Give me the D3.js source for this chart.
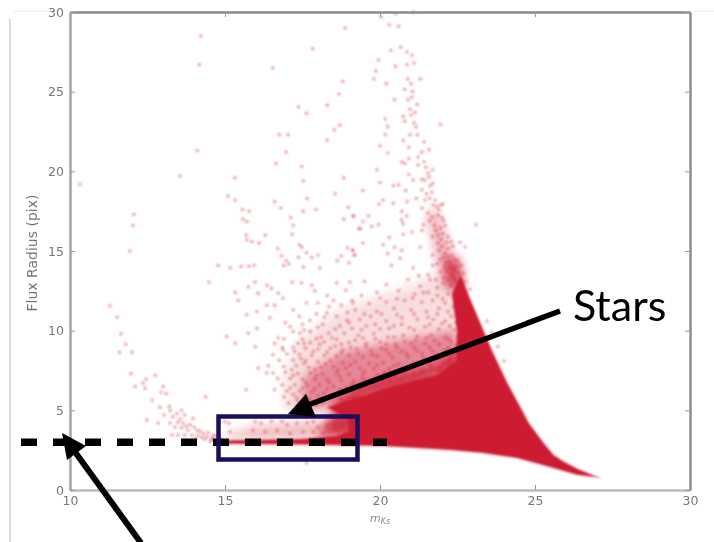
<!DOCTYPE html>
<html>
<head>
<meta charset="utf-8">
<script src="https://cdn.jsdelivr.net/npm/d3@7"></script>
<style>
    html, body { margin: 0; padding: 0; background: #fff; }
    svg { display: block; }
</style>
</head>
<body>
<div id="chart"></div>
<script>
// Axis ticks
const magTicks = [10, 15, 20, 25, 30];
const radiusTicks = [0, 5, 10, 15, 20, 25, 30];

// Outline of the saturated stellar locus, [magnitude, flux radius]
const coreOutline = [
    [14.9, 3.1], [17.42, 3.2], [18.6, 3.4], [19, 3.7], [18.95, 4.5], [18.3, 5.2],
    [19.35, 5.85], [20.23, 6.45], [21.1, 6.9], [21.84, 7.25], [22.45, 8.1], [22.48, 10], [22.32, 12.3],
    [22.6, 13.5], [22.95, 11.8], [23.32, 10.1], [23.6, 8.8], [24.1, 6.75], [24.5, 5.3], [24.8, 4.2], [25.26, 3],
    [25.6, 2.2], [25.95, 1.75], [26.4, 1.3], [26.94, 0.88], [27.15, 0.76], [26.35, 0.96], [25.48, 1.44], [24.42, 2.01],
    [23.32, 2.32], [22.26, 2.51], [20.1, 2.76], [17.42, 2.86], [14.9, 2.9]
];

// Areas where the points overlap too much to read one by one
const cloudOuter = [
    [16.94, 4.9], [16.94, 7.2], [17.42, 9.4], [18.71, 11.3], [20.65, 12.55], [22.26, 13.8],
    [22.58, 11.9], [22.58, 7.85], [18.71, 5.0]
];
const cloudInner = [
    [17.42, 5.0], [17.58, 7.2], [18.71, 8.65], [20.65, 9.4], [22.42, 10.05], [22.58, 7.85],
    [20.65, 6.6], [18.39, 5.15]
];
const locusShoulder = [
    [18.4, 5.3], [19.2, 6.4], [20.2, 7.1], [21.8, 7.9], [22.6, 9], [22.6, 7.5], [21.5, 6.8], [19.3, 5.6]
];
const boxShoulder = [
    [18, 3.4], [18.4, 4.6], [18.6, 5.3], [19.4, 5.8], [19.4, 3.3]
];
const ridgeBand = [
    [21.5, 17.5], [21.7, 15.7], [21.9, 13.8], [22.1, 12.5], [22.7, 13.2], [22.6, 13.8],
    [22.16, 15.7], [21.85, 17.5]
];
const ridgeTip = [
    [22.05, 14.5], [22.25, 12.5], [22.7, 12.5], [22.6, 14.5]
];
const faintStrip = [
    [15, 3.4], [16, 4.0], [18, 4.3], [18.9, 4.9], [18.9, 3.2], [15, 3.2]
];

// Scattered points
const sparsePoints = [
    [14.22,28.5],[14.17,26.7],[10.32,19.2],[14.1,21.3],[13.55,19.7],[15.32,19.6],[12.06,17.3],[12.03,16.6],
    [11.93,15],[16.54,26.5],[17.83,27.7],[18.88,29],[18.8,25.65],[18.68,24.85],[17.37,24.05],[17.63,23.65],
    [18.3,24.15],[18.7,22.9],[18.53,22.6],[16.75,22.3],[17.03,22.3],[18.3,21.95],[16.97,21.2],[16.65,20.5],
    [17.47,20.3],[17.53,19.4],[18.83,19.6],[18.55,18.6],[17.65,18.3],[15.1,18.45],[15.33,18.2],[16.6,18.1],
    [16.8,17.7],[15.56,17.6],[15.78,17.5],[17.52,17.5],[17.94,17.6],[18.98,17.75],[19.15,17.2],[18.83,17],
    [17.12,17.1],[15.58,17],[15.71,16.85],[17.2,16.6],[19.32,16.4],[17.17,16.05],[15.68,16],[16.3,16],
    [15.71,15.7],[15.87,15.6],[16.1,15.5],[17.4,15.4],[17.48,15.25],[16.7,15.15],[18.95,15.2],[19.12,15.05],
    [17.63,14.9],[17.37,14.6],[17.8,14.6],[18,14.75],[18.75,14.7],[19.16,14.75],[16.82,14.7],[16.97,14.4],
    [18.62,14.4],[19,14.25],[14.78,14.1],[15.17,13.95],[15.52,14.05],[15.77,14.05],[15.94,14.1],[16.9,14.1],
    [17.06,14.2],[17.53,14],[18.06,13.95],[14.48,13.05],[15.33,12.4],[15.43,11.9],[15.75,12.75],[15.97,13.05],
    [16.35,12.85],[16.5,12.65],[15.7,11],[15.05,9.65],[15.33,9.2],[16.07,12.35],[16.72,12.35],[17.17,13.05],
    [17.47,13],[17.8,12.85],[16.35,11.6],[16.6,11.6],[16.03,11.2],[16.45,10.8],[16.87,12.05],[17.63,11.75],
    [18,11.75],[17.2,11.3],[15.75,9.85],[16.03,10.15],[15.97,9],[16.07,7.65],[16.35,7.35],[16.72,9.55],
    [16.87,8.8],[17.1,10.25],[17.42,9.85],[17.74,10.65],[18.29,11.1],[18.94,10.65],[18.5,11.9],[19.03,13.05],
    [18.6,13],[19.13,11.75],[15.68,6.3],[14.38,5.85],[17.63,1.7]
];

// Points along the tall plume above the locus
const plumePoints = [
    [20.03,29.7],[20.5,29.9],[21.07,30],[20.3,29.2],[20.6,29.1],[20.67,27.8],[20.35,27.6],[20.87,27.5],
    [21.03,27.3],[19.95,27],[20.5,26.6],[20.87,26.7],[21.1,26.8],[19.87,26.3],[19.8,25.8],[20.9,25.8],
    [21.3,25.8],[20.2,25.5],[21,25.5],[20.8,25.15],[21.05,25],[20.47,24.5],[20.9,24.5],[21.03,24.65],
    [21.2,24.2],[20.97,23.9],[21.13,23.7],[21,23.55],[20.75,23.45],[20.17,23.3],[20.8,23.15],[21.1,23.05],
    [21.17,22.8],[20.25,22.8],[21.95,22.95],[20.17,22.3],[20.97,22.3],[21.2,22.3],[20.75,21.95],[21.42,21.85],
    [20,21.6],[20.93,21.5],[21.58,21.35],[21.35,21.2],[20.25,21.15],[21.23,20.9],[20.93,20.8],[20.7,20.6],
    [20.8,20.5],[21.23,20.4],[21.48,20.25],[19.9,20.1],[20.93,19.8],[21.07,19.45],[21.35,19.5],[21.58,19.65],
    [21.45,19.45],[20,19.3],[20.43,19.1],[20.6,19.15],[21.7,19.25],[19.45,18.8],[20.83,18.8],[21.35,18.85],
    [21.68,18.7],[21.6,18.3],[21.17,18.3],[20.1,18.2],[20.43,18],[19.97,17.95],[20.87,18.1],[22.03,17.95],
    [21.35,17.7],[21.83,17.8],[21.68,17.15],[21.87,17.25],[20.7,17.5],[19.62,17.2],[19.13,17.2],[20.87,17.2],
    [20.7,16.95],[19.45,16.85],[19.95,16.65],[19.73,16.55],[19.37,16.4],[20.75,16.7],[21.4,16.65],[23.1,16.65],
    [21.03,16.2],[21.35,16.3],[21.95,16.45],[21.87,16],[21.7,15.9],[22.03,16.1],[20.75,16.05],[20.3,15.85],
    [19.45,15.5],[20.1,15.4],[20.47,15.25],[22.58,15.55],[22.74,15.25],[21.87,15.5],[22.2,15.15],[21.3,15.25],
    [19.12,15.05],[20.7,15.05],[20.25,14.85],[21.7,14.75],[22.1,14.85],[22.32,14.75],[19.2,14.75],[20.65,14.55],
    [21.93,14.45],[22.15,14.3],[20.37,14.1],[21.7,14.1],[22.48,14.05],[22.1,14],[21.07,13.95],
    [21.42,20.6],[21.55,19.9],[21.62,19.1],[21.5,18.6],[21.78,18.2],[21.9,17.6],[21.55,17.4],[22,17.1],
    [21.75,16.6],[22.1,16.6],[22.2,15.9],[22,15.3],[22.35,15.3],[22.05,14.6],[22.4,14.5],[22.25,14],[22.55,13.6],
    [21.95,13.7],[22.3,13.5],[21.7,20.1],[21.45,18.2],[21.72,17.9],[21.6,16.9],[21.95,17.9],[22.05,16.9],
    [21.8,16.3],[21.98,15.75],[22.3,15.6],[22.15,15.55],[21.9,15.05],[22.2,14.65],[22.5,14.4],[21.85,14.2],
    [22.35,13.9],[22.62,14.1],[22.05,13.35],[22.5,13.1],[21.8,13.2],[21.55,13.5],[21.25,13.45],
    [22.2,13.2],[22.4,13.3],[22.15,13.75],[22.45,13.75],[22.7,13.6],[22.75,13.1],[22.9,12.6],[22.25,14.35]
];

// Arm running down to the left, towards the bright end
const armPoints = [
    [11.29,11.55],[11.52,10.85],[11.65,9.8],[11.8,9.15],[11.6,8.65],[12,8.65],[11.97,7.3],[12.75,7.2],
    [12.45,6.95],[12.1,6.5],[12.36,6.7],[12.42,6.4],[13,6.5],[12.94,6.15],[13.1,6.05],[12.65,5.65],
    [12.9,5.2],[13.2,5.25],[12.48,4.4],[12.84,4.2],[13.03,4.7],[13.23,5],[13.6,5],[13.32,4.6],
    [13.45,4.8],[13.7,4.7],[13.97,4.5],[13.23,4.2],[13.48,4.25],[13.65,4.2],[13.87,4.1],[13.39,3.95],
    [13.6,3.9],[13.8,3.75],[14.1,3.75],[14.3,3.55],[13.29,3.45],[13.48,3.45],[13.7,3.45],[13.93,3.45],
    [14.13,3.45],[14.42,3.35],[14.58,3.25],[14.74,3.15],[14.52,3.05],[14.25,3.3],[14.05,3.25],[14.62,3.45],
    [13.55,4.45],[13.75,4.0],[14,3.95],[14.2,3.7],[14.45,3.6],[14.7,3.4],[14.85,3.25],[14.35,3.2],[14.6,3.15],
    [15,4.3],[15.13,4.2],[15.16,3.65],[15.97,4.3],[16.16,4.2],[16.5,4.3],[16.84,4.3],[17,4.1],
    [17.32,4.2],[17.65,4.2],[17.85,4.3],[18,3.95],[18.3,4.1],[18.5,4.2],[15.9,3.75],[16.3,3.65],
    [16.68,3.75],[17.1,3.55],[17.52,3.65],[17.85,3.65],[18.16,3.55],[18.6,3.75],[18.8,3.95]
];

// Cloud of galaxies between the plume and the locus
const cloudPoints = [
    [19.5,13.1],[20.2,12.9],[20.9,13.2],[21.3,12.8],[21.62,13.2],[19.9,12.4],[20.6,12.5],[21.12,12.3],[21.55,12.4],[21.85,12.7],
    [17.9,12.5],[18.9,12.55],[18.3,12.2],[19.4,12.2],[19.65,11.7],[20.2,11.8],[20.8,11.9],[21.35,11.8],[21.7,11.9],[22.02,12],
    [18.35,11.5],[18.75,11.6],[19.2,11.3],[19.9,11.2],[20.45,11.4],[21,11.3],[21.5,11.2],[21.9,11.4],[22.2,11.2],[17.4,10.9],
    [17.95,11.05],[18.6,10.9],[19.35,10.7],[19.7,10.9],[20.2,10.6],[20.7,10.8],[21.2,10.7],[21.72,10.7],[22.1,10.6],[22.3,10.9],
    [16.95,10.5],[17.5,10.4],[18.15,10.4],[18.7,10.3],[19.1,10.15],[19.55,10.3],[20,10.1],[20.45,10.3],[20.95,10.2],[21.45,10.25],[21.9,10.1],[22.25,10.3],
    [17.2,9.95],[17.75,9.95],[18.35,9.85],[18.85,9.85],[19.3,9.7],[19.8,9.8],[20.25,9.6],[20.75,9.7],[21.2,9.65],[21.65,9.7],[22.1,9.6],
    [16.6,9.2],[16.9,9.5],[17.5,9.45],[17.95,9.5],[18.2,9.3],[18.6,9.45],[19,9.25],[19.55,9.2],[20,9.3],[20.5,9.15],[21,9.2],[21.45,9.2],[21.9,9.15],[22.3,9.3],
    [16.85,8.95],[17.2,8.95],[17.6,8.9],[18,8.85],[18.4,8.9],[18.8,8.8],[19.25,8.85],[19.7,8.75],[20.2,8.8],[20.7,8.7],[21.2,8.75],[21.7,8.7],[22.1,8.75],
    [16.55,8.5],[17,8.55],[17.4,8.5],[17.8,8.45],[18.2,8.45],[18.6,8.4],[19,8.45],[19.45,8.35],[19.9,8.4],[20.4,8.3],[20.9,8.35],[21.4,8.3],[21.9,8.3],[22.3,8.35],
    [16.75,8.15],[17.2,8.15],[17.6,8.1],[18,8.05],[18.4,8.1],[18.8,8],[19.2,8.05],[19.65,7.95],[20.1,8],[20.6,7.9],[21.1,7.95],[21.6,7.9],[22.05,7.95],
    [16.4,7.8],[16.9,7.75],[17.3,7.8],[17.7,7.7],[18.1,7.7],[18.5,7.75],[18.9,7.65],[19.35,7.65],[19.8,7.6],[20.3,7.6],[20.85,7.55],[21.4,7.5],[21.95,7.6],
    [16.55,7.35],[16.95,7.4],[17.35,7.3],[17.75,7.35],[18.15,7.3],[18.6,7.35],[19,7.25],[19.45,7.25],[19.95,7.2],[20.5,7.15],[21.1,7.2],
    [16.7,7],[17.1,7],[17.5,6.95],[17.9,6.95],[18.3,6.95],[18.75,6.9],[19.15,6.85],[19.6,6.85],[20.1,6.8],
    [16.85,6.6],[17.25,6.6],[17.65,6.55],[18.05,6.6],[18.5,6.5],[18.9,6.45],[19.35,6.4],
    [16.6,6.3],[17,6.2],[17.4,6.2],[17.8,6.15],[18.2,6.1],[18.65,6.05],
    [16.9,5.85],[17.3,5.8],[17.7,5.75],[18.1,5.7],[17.05,5.45],[17.5,5.4],[17.95,5.35]
];

// Second pass over the thicker part of the cloud
const thickCloudPoints = [
    [17.25,8.7],[17.55,9.2],[17.45,8.25],[17.85,8.7],[18.05,9.15],[18.3,8.65],[18.55,9.05],[18.75,8.6],[19.05,8.95],[19.3,8.55],[19.55,9],[19.75,8.5],[20.05,8.9],[20.3,8.55],[20.55,8.95],[20.85,8.55],[21.1,8.95],[21.35,8.55],[21.6,8.95],[21.85,8.5],[22.2,8.9],
    [17.15,7.55],[17.55,7.95],[17.9,7.55],[18.25,7.9],[18.65,7.55],[19.05,7.85],[19.5,7.45],[19.9,7.85],[20.15,7.4],[20.45,7.8],[20.75,7.35],[21,7.75],[21.3,7.4],[21.65,7.7],[21.85,7.45],[22.2,8.1],[22.35,7.85],
    [17.2,7.2],[17.6,6.75],[17.95,7.2],[18.35,6.75],[18.7,7.15],[19.1,6.65],[19.45,7],[19.85,6.6],[20.3,6.95],[20.7,6.9],
    [17.1,6.4],[17.5,6.4],[17.9,6.35],[18.3,6.35],[18.7,6.3],[19.1,6.2],[17.2,6],[17.6,5.95],[18,5.9],[18.4,5.85],[18.75,5.7],[17.35,5.6],[17.75,5.55],[18.15,5.5],
    [17.35,9.2],[17.75,9.25],[18.1,9.6],[18.45,9.55],[18.75,9.15],[19.2,9.4],[19.45,9.55],[19.85,9.5],[20.2,9.15],[20.45,9.6],[20.8,9.35],[21.15,9.4],[21.5,9.55],[21.75,9.4],[22.2,9.5],[22.45,9.1],
    [17.55,10.05],[18,10.2],[18.55,10.1],[19,10.5],[19.4,10.05],[19.85,10.4],[20.3,10.15],[20.7,10.4],[21.1,10.05],[21.6,10.4],[22,10.45],[22.4,10.05],
    [18.2,10.85],[18.95,11.15],[19.5,11.05],[20.05,11.05],[20.55,11],[21.1,11.05],[21.55,10.85],[21.85,11.05],[22.35,11.5],[22.1,11.75],
    [19.1,11.9],[20,12.05],[20.55,12],[21.05,12.05],[21.4,12.4],[22.2,12.3],[21.85,12.2],[22.3,12.85],[22.05,13],
    [22.5,9.6],[22.4,8.6],[22.55,11],[22.45,10.5],[22.55,12.1],[23.45,10.6],[23.6,9.9],[23.8,9],[24,8.1]
];

const redFill = '#cd1c30';

// Draw the chart
function createChart() {
    const width = 714;
    const height = 542;

    const x = d3.scaleLinear().domain([10, 30]).range([70, 690]);
    const y = d3.scaleLinear().domain([0, 30]).range([490, 12]);

    const svg = d3.select('#chart')
        .append('svg')
        .attr('width', width)
        .attr('height', height);

    // The reference is a soft, upscaled picture
    const defs = svg.append('defs');
    const addBlur = (id, amount) => defs.append('filter').attr('id', id)
        .attr('x', '-10%').attr('y', '-10%').attr('width', '120%').attr('height', '120%')
        .append('feGaussianBlur').attr('stdDeviation', amount);
    addBlur('soft', 0.8);
    addBlur('softText', 0.7);
    addBlur('haze', 5);

    // Faint slide frame
    svg.append('line').attr('x1', 10).attr('x2', 10).attr('y1', 19).attr('y2', 542)
        .style('stroke', '#cfcfcf').style('stroke-width', 1.5);
    svg.append('line').attr('x1', 13).attr('x2', 60).attr('y1', 11).attr('y2', 11)
        .style('stroke', '#eeeeee');
    svg.append('line').attr('x1', 692).attr('x2', 714).attr('y1', 11).attr('y2', 11)
        .style('stroke', '#eeeeee');

    const polygon = d3.line().x(d => x(d[0])).y(d => y(d[1])).curve(d3.curveLinearClosed);

    // Density areas, heavily blurred so they have no visible edge
    const areas = [
        { outline: faintStrip, opacity: 0.3 },
        { outline: cloudOuter, opacity: 0.16 },
        { outline: cloudInner, opacity: 0.42 },
        { outline: ridgeBand, opacity: 0.35 },
        { outline: ridgeTip, opacity: 0.7 },
        { outline: locusShoulder, opacity: 0.8 },
        { outline: boxShoulder, opacity: 0.85 }
    ];
    svg.append('g').attr('filter', 'url(#haze)')
        .selectAll('path')
        .data(areas)
        .join('path')
        .attr('d', d => polygon(d.outline))
        .style('fill', redFill)
        .style('fill-opacity', d => d.opacity);

    const plot = svg.append('g').attr('filter', 'url(#soft)');

    // Individual points
    const points = sparsePoints.concat(plumePoints, armPoints, cloudPoints, thickCloudPoints);
    plot.append('g')
        .selectAll('circle')
        .data(points)
        .join('circle')
        .attr('cx', d => x(d[0]))
        .attr('cy', d => y(d[1]))
        .attr('r', 1.6)
        .style('fill', redFill)
        .style('fill-opacity', 0.48);

    // Saturated locus
    plot.append('path')
        .attr('d', polygon(coreOutline))
        .style('fill', redFill);

    // Axes, ticks point inwards on all four sides
    const axes = svg.append('g').attr('filter', 'url(#softText)');
    const frame = [
        { axis: d3.axisBottom(x).tickValues(magTicks).tickSizeInner(-5).tickSizeOuter(0).tickPadding(6), at: [0, 490], color: '#bbbbbb', w: 2.6 },
        { axis: d3.axisTop(x).tickValues(magTicks).tickSizeInner(-5).tickSizeOuter(0).tickFormat(''), at: [0, 12], color: '#8a8a8a', w: 2.4 },
        { axis: d3.axisLeft(y).tickValues(radiusTicks).tickSizeInner(-5).tickSizeOuter(0).tickPadding(6), at: [70, 0], color: '#a0a0a0', w: 2.4 },
        { axis: d3.axisRight(y).tickValues(radiusTicks).tickSizeInner(-5).tickSizeOuter(0).tickFormat(''), at: [690, 0], color: '#8a8a8a', w: 2.4 }
    ];
    frame.forEach(f => {
        const g = axes.append('g')
            .attr('transform', `translate(${f.at[0]},${f.at[1]})`)
            .call(f.axis);
        g.select('.domain').style('stroke', f.color).style('stroke-width', f.w);
        g.selectAll('.tick line').style('stroke', '#999999');
        g.selectAll('.tick text')
            .style('fill', '#777777')
            .style('font-family', '"DejaVu Sans", sans-serif')
            .style('font-size', '12.5px');
    });

    axes.append('text')
        .attr('transform', 'translate(37,253) rotate(-90)')
        .attr('text-anchor', 'middle')
        .style('fill', '#777777')
        .style('font-family', '"DejaVu Sans", sans-serif')
        .style('font-size', '14px')
        .text('Flux Radius (pix)');

    const magLabel = axes.append('text')
        .attr('x', 380)
        .attr('y', 522)
        .attr('text-anchor', 'middle')
        .style('fill', '#888888')
        .style('font-family', '"DejaVu Sans", sans-serif')
        .style('font-size', '11px');
    magLabel.append('tspan').style('font-style', 'italic').text('m');
    magLabel.append('tspan').attr('dy', 2).style('font-size', '8px').style('font-style', 'italic').text('Ks');

    // Callouts drawn over the slide, in page pixels
    svg.append('line')
        .attr('x1', 21).attr('x2', 387)
        .attr('y1', y(3)).attr('y2', y(3))
        .style('stroke', '#000')
        .style('stroke-width', 7.5)
        .style('stroke-dasharray', '16 16');

    svg.append('rect')
        .attr('x', 218.5).attr('y', 416.5)
        .attr('width', 139).attr('height', 43)
        .style('fill', 'none')
        .style('stroke', '#1b0f5c')
        .style('stroke-width', 4.5);

    const arrows = [
        { from: [560, 311], to: [300, 408], head: [[288, 414], [306, 394], [316, 417]], w: 5.5 },
        { from: [141, 543], to: [70, 445], head: [[62, 433], [86, 446], [67, 460]], w: 6 }
    ];
    arrows.forEach(a => {
        svg.append('line')
            .attr('x1', a.from[0]).attr('y1', a.from[1])
            .attr('x2', a.to[0]).attr('y2', a.to[1])
            .style('stroke', '#000')
            .style('stroke-width', a.w);
        svg.append('polygon')
            .attr('points', a.head.map(p => p.join(',')).join(' '))
            .style('fill', '#000');
    });

    svg.append('text')
        .attr('x', 573)
        .attr('y', 321)
        .style('fill', '#000')
        .style('font-family', 'Lato, sans-serif')
        .style('font-size', '43px')
        .text('Stars');
}

window.addEventListener('load', createChart);
</script>
</body>
</html>
